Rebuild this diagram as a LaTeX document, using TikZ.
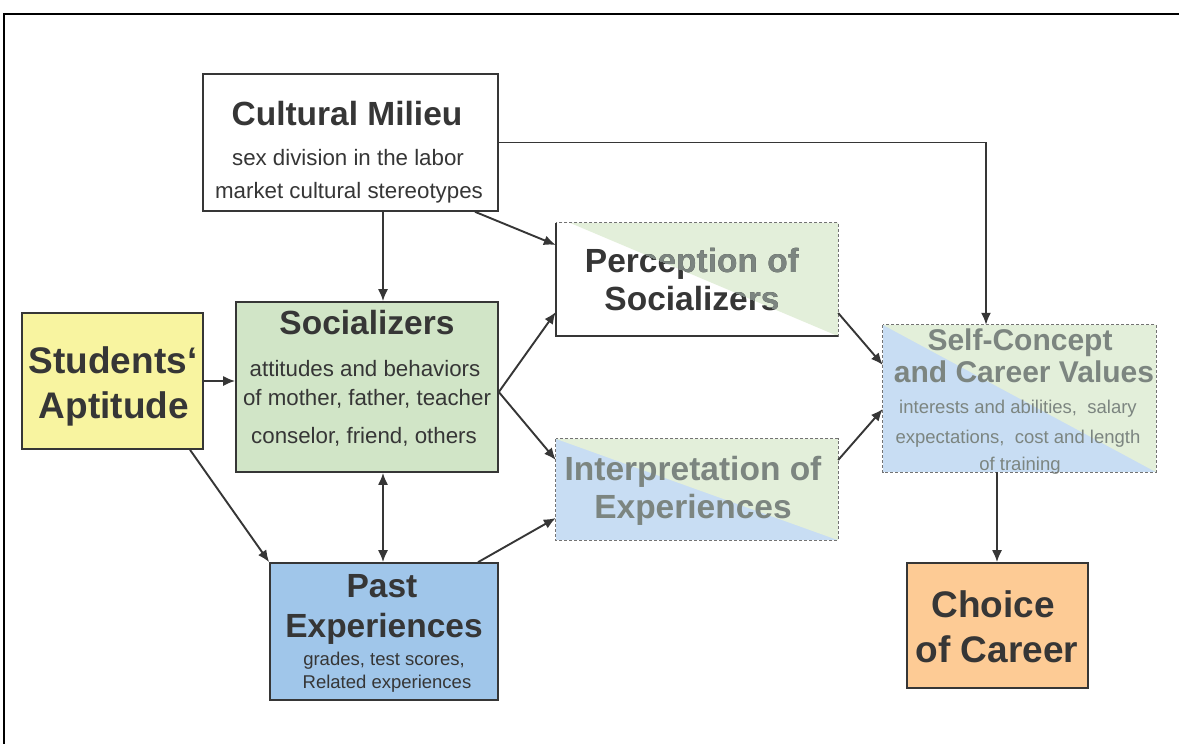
\documentclass[tikz,border=0pt]{standalone}
\usepackage{fontspec}
\setmainfont{Liberation Sans}
\usetikzlibrary{arrows.meta}
\definecolor{ink}{HTML}{363636}
\definecolor{fade}{HTML}{7C8580}
\definecolor{socgreen}{HTML}{D1E5C7}
\definecolor{aptyellow}{HTML}{F8F4A0}
\definecolor{pastblue}{HTML}{A0C6EA}
\definecolor{choiceorange}{HTML}{FDCB95}
\definecolor{ltgreen}{HTML}{E3EFDA}
\definecolor{ltblue}{HTML}{C8DDF3}
\definecolor{dashgray}{HTML}{737373}
\tikzset{
  box/.style={draw=ink, line width=1.6pt, inner sep=0pt},
  dbox/.style={draw=dashgray, line width=1.2pt, dash pattern=on 3pt off 2pt, inner sep=0pt},
  arr/.style={draw=ink, line width=1.9pt, -{Latex[length=12pt,width=10pt]}},
  darr/.style={draw=ink, line width=1.9pt, {Latex[length=12pt,width=10pt]}-{Latex[length=12pt,width=10pt]}},
  txt/.style={anchor=base, inner sep=0pt, text=ink},
  big/.style={font=\fontsize{33.5}{36}\selectfont\bfseries},
  huge/.style={font=\fontsize{37}{40}\selectfont\bfseries},
  mid/.style={font=\fontsize{30}{33}\selectfont\bfseries},
  small/.style={font=\fontsize{22.3}{25}\selectfont},
  tiny/.style={font=\fontsize{18.5}{21}\selectfont},
}
\begin{document}
\begin{tikzpicture}[x=1pt,y=-1pt]
\useasboundingbox (0,0) rectangle (1179,744);
\fill[white] (0,0) rectangle (1179,744);
% outer frame
\draw[line width=2.2pt, black] (4,744) -- (4,14) -- (1179,14);

% ---- solid boxes
\node[box, fill=white, minimum width=295pt, minimum height=137pt] (cult) at (350.5,142.5) {};
\node[box, fill=socgreen, minimum width=262pt, minimum height=170pt] (soc) at (367,387) {};
\node[box, fill=aptyellow, minimum width=181pt, minimum height=136pt] (apt) at (112.5,381) {};
\node[box, fill=pastblue, minimum width=228pt, minimum height=137pt] (past) at (384,631.5) {};
\node[box, fill=choiceorange, minimum width=181pt, minimum height=125pt] (choice) at (997.5,625.5) {};

% ---- split boxes (backgrounds)
\node[inner sep=0pt, minimum width=282pt, minimum height=113pt] (perc) at (697,279.5) {};
\node[inner sep=0pt, minimum width=282pt, minimum height=101pt] (interp) at (697,489.5) {};
\node[inner sep=0pt, minimum width=273pt, minimum height=147pt] (self) at (1019.5,398.5) {};

\fill[white] (perc.north west) rectangle (perc.south east);
\fill[ltgreen] ([xshift=14pt]perc.north west) -- (perc.north east) -- (perc.south east) -- cycle;
\fill[ltblue] (interp.north west) rectangle (interp.south east);
\fill[ltgreen] (interp.north west) -- (interp.north east) -- (interp.south east) -- cycle;
\fill[ltblue] (self.north west) rectangle (self.south east);
\fill[ltgreen] (self.north west) -- (self.north east) -- (self.south east) -- cycle;

% ---- texts
\node[txt, big] (tc1) at (347,125) {Cultural Milieu};
\node[txt, small] (tc2) at (348,165) {sex division in the labor};
\node[txt, small] (tc3) at (349,198) {market cultural stereotypes};

\node[txt, big] (ts1) at (367,334) {Socializers};
\node[txt, small] (ts2) at (365,376) {attitudes and behaviors};
\node[txt, small] (ts3) at (367,405) {of mother, father, teacher};
\node[txt, small] (ts4) at (364,443) {conselor, friend, others};

\node[txt, huge] (ta1) at (113,373) {Students‘};
\node[txt, huge] (ta2) at (114,418) {Aptitude};

\node[txt, big] (tp1) at (382,597) {Past};
\node[txt, big] (tp2) at (384,637) {Experiences};
\node[txt, tiny] (tp3) at (384,665) {grades, test scores,};
\node[txt, tiny] (tp4) at (387,688) {Related experiences};

\node[txt, huge] (tch1) at (993,617) {Choice};
\node[txt, huge] (tch2) at (997,662) {of Career};

% Perception: dark on white part, gray on green part
\node[txt, big] (tq1) at (692,272) {Perception of};
\node[txt, big] (tq2) at (692,310) {Socializers};
\begin{scope}
\clip ([xshift=14pt]perc.north west) -- (perc.north east) -- (perc.south east) -- cycle;
\node[txt, big, text=fade] (tq1b) at (692,272) {Perception of};
\node[txt, big, text=fade] (tq2b) at (692,310) {Socializers};
\end{scope}

\node[txt, big, text=fade] (ti1) at (693,480) {Interpretation of};
\node[txt, big, text=fade] (ti2) at (693,518) {Experiences};

\node[txt, mid, text=fade] (tf1) at (1020,350) {Self-Concept};
\node[txt, mid, text=fade] (tf2) at (1024,382) {and Career Values};
\node[txt, tiny, text=fade] (tf3) at (1018,413) {interests and abilities,\ \ salary};
\node[txt, tiny, text=fade] (tf4) at (1018,443) {expectations,\ \ cost and length};
\node[txt, tiny, text=fade] (tf5) at (1020,470) {of training};

% ---- borders of split boxes
\draw[dbox] (perc.north west) rectangle (perc.south east);
\draw[ink, line width=1.6pt] (perc.north west) -- (perc.south west) -- (perc.south east);
\draw[dbox] (interp.north west) rectangle (interp.south east);
\draw[dbox] (self.north west) rectangle (self.south east);

% ---- connectors
\draw[arr] ([xshift=32.5pt]cult.south) -- ([xshift=16pt]soc.north);
\draw[arr] ([xshift=124.5pt]cult.south) -- ([yshift=34.5pt]perc.west);
\draw[arr] (cult.east) -| ([xshift=-33.5pt]self.north);
\draw[arr] (apt.east) -- (apt.east -| soc.west);
\draw[arr] ([xshift=77.5pt]apt.south) -- (past.north west);
\draw[darr] ([xshift=16pt]soc.south) -- ([xshift=16pt]soc.south |- past.north);
\draw[arr] ([yshift=-5pt]soc.east) -- ([yshift=-32.5pt]perc.west);
\draw[arr] ([yshift=-5pt]soc.east) -- ([yshift=29.5pt]interp.west);
\draw[arr] ([xshift=94pt]past.north) -- ([yshift=-28.5pt]interp.west);
\draw[arr] ([yshift=-33.5pt]perc.east) -- ([yshift=33.5pt]self.west);
\draw[arr] ([yshift=29.5pt]interp.east) -- ([yshift=-10.5pt]self.west);
\draw[arr] ([xshift=-22.5pt]self.south) -- ([xshift=-22.5pt]self.south |- choice.north);
\end{tikzpicture}
\end{document}
